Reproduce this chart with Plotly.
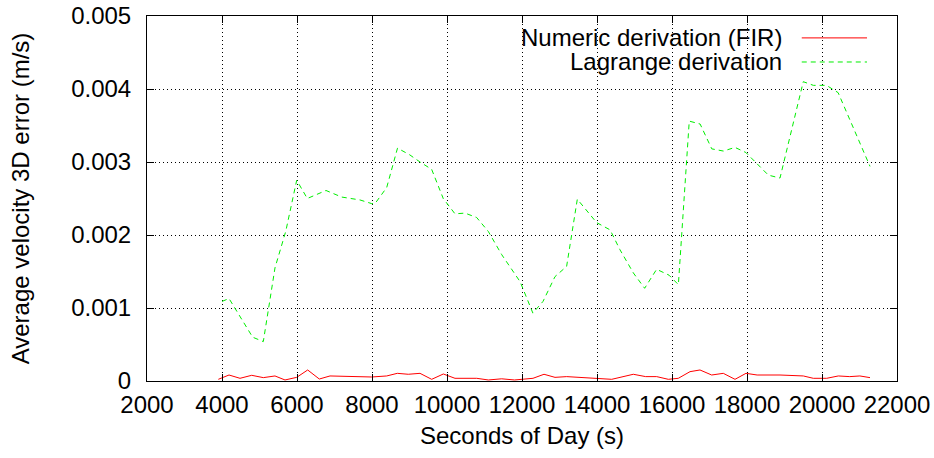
import plotly.graph_objects as go

# Lagrange derivation (green, dashed)
lag_x = [4000, 4187, 4818, 5102, 5413, 5700, 5992, 6275, 6773, 7191, 7680, 7992, 8080, 8392,
         8680, 9000, 9280, 9590, 9900, 10213, 10480, 10790, 11100, 11460, 11950, 12290,
         12560, 12880, 13190, 13475, 13990, 14350, 14610, 14970, 15270, 15590, 15920,
         16170, 16460, 16750, 17060, 17370, 17680, 17970, 18570, 18880, 19500, 19770,
         20120, 20430, 21280]
lag_y = [0.00109, 0.00113, 0.00060, 0.00054, 0.00155, 0.00205, 0.00275, 0.00250, 0.00261,
         0.00252, 0.00248, 0.00243, 0.00243, 0.00265, 0.00319, 0.00310, 0.00300, 0.00290,
         0.00250, 0.00229, 0.00230, 0.00224, 0.00205, 0.00173, 0.00136, 0.00093, 0.00109,
         0.00143, 0.00157, 0.00249, 0.00217, 0.00207, 0.00180, 0.00148, 0.00127, 0.00153,
         0.00145, 0.00132, 0.00356, 0.00352, 0.00318, 0.00315, 0.00320, 0.00313, 0.00282,
         0.00278, 0.00410, 0.00405, 0.00405, 0.00395, 0.00294]

# Numeric derivation FIR (red, solid)
fir_x = [3902, 4187, 4480, 4792, 5102, 5413, 5680, 5992, 6285, 6595, 6880, 7200, 7500, 7992,
         8392, 8675, 8968, 9280, 9592, 9902, 10213, 10792, 11102, 11458, 11800, 12293,
         12587, 12880, 13192, 13725, 14392, 14968, 15298, 15592, 15902, 16168, 16480,
         16747, 17058, 17368, 17680, 17973, 18270, 18880, 19502, 19768, 20125, 20435,
         20740, 21010, 21280]
fir_y = [0.000023, 0.000082, 0.000037, 0.000078, 0.000046, 0.000069, 0.000014, 0.000050,
         0.000151, 0.000027, 0.000069, 0.000066, 0.000064, 0.000055, 0.000069, 0.000105,
         0.000092, 0.000105, 0.000023, 0.000096, 0.000037, 0.000037, 0.000014, 0.000030,
         0.000014, 0.000037, 0.000092, 0.000050, 0.000060, 0.000040, 0.000023, 0.000092,
         0.000060, 0.000060, 0.000023, 0.000037, 0.000128, 0.000151, 0.000082, 0.000105,
         0.000023, 0.000105, 0.000082, 0.000082, 0.000069, 0.000037, 0.000037, 0.000069,
         0.000060, 0.000069, 0.000046]

x_ticks = [2000, 4000, 6000, 8000, 10000, 12000, 14000, 16000, 18000, 20000, 22000]
x_tick_labels = [str(v) for v in x_ticks]
y_ticks = [0, 0.001, 0.002, 0.003, 0.004, 0.005]
y_tick_labels = ["0", "0.001", "0.002", "0.003", "0.004", "0.005"]
series_names = ["Numeric derivation (FIR)", "Lagrange derivation"]

FONT = "Liberation Sans, Arial, sans-serif"
FS = 24
RED = "#ff0000"
GREEN = "#00ee00"

fig = go.Figure()
fig.add_trace(go.Scatter(x=fir_x, y=fir_y, mode="lines", name=series_names[0],
                         line=dict(color=RED, width=1), showlegend=False))
fig.add_trace(go.Scatter(x=lag_x, y=lag_y, mode="lines", name=series_names[1],
                         line=dict(color=GREEN, width=1, dash="5px,4px"), showlegend=False))

axis_common = dict(showline=True, linecolor="black", linewidth=1, mirror="allticks",
                   ticks="inside", ticklen=7, tickcolor="black", tickwidth=1,
                   showgrid=True, gridcolor="black", gridwidth=1, griddash="1px,3px",
                   zeroline=False, automargin=False,
                   tickfont=dict(family=FONT, size=FS, color="black"))

fig.update_xaxes(range=[2000, 22000], tickvals=x_ticks, ticktext=x_tick_labels,
                 ticklabelstandoff=2,
                 title=dict(text="Seconds of Day (s)", font=dict(family=FONT, size=FS, color="black"),
                            standoff=10),
                 **axis_common)
fig.update_yaxes(range=[0, 0.005], tickvals=y_ticks, ticktext=y_tick_labels,
                 ticklabelstandoff=10,
                 title=dict(text="Average velocity 3D error (m/s)",
                            font=dict(family=FONT, size=FS, color="black"), standoff=34),
                 **axis_common)

# gnuplot-style legend: right-aligned text with a line sample to its right
legend_rows = [(series_names[0], RED, "solid", 0.94), (series_names[1], GREEN, "5px,4px", 0.874)]
for name, col, dash, yp in legend_rows:
    fig.add_annotation(x=0.847, y=yp, xref="paper", yref="paper", text=name, showarrow=False,
                       xanchor="right", yanchor="middle", xshift=2,
                       font=dict(family=FONT, size=FS, color="black"))
    fig.add_shape(type="line", xref="paper", yref="paper", x0=0.873, x1=0.96, y0=yp, y1=yp,
                  line=dict(color=col, width=1, dash=dash))

fig.update_layout(width=934, height=458, margin=dict(l=147, r=37, t=16, b=77),
                  plot_bgcolor="white", paper_bgcolor="white",
                  font=dict(family=FONT, size=FS, color="black"))

fig.write_html("out.html")
